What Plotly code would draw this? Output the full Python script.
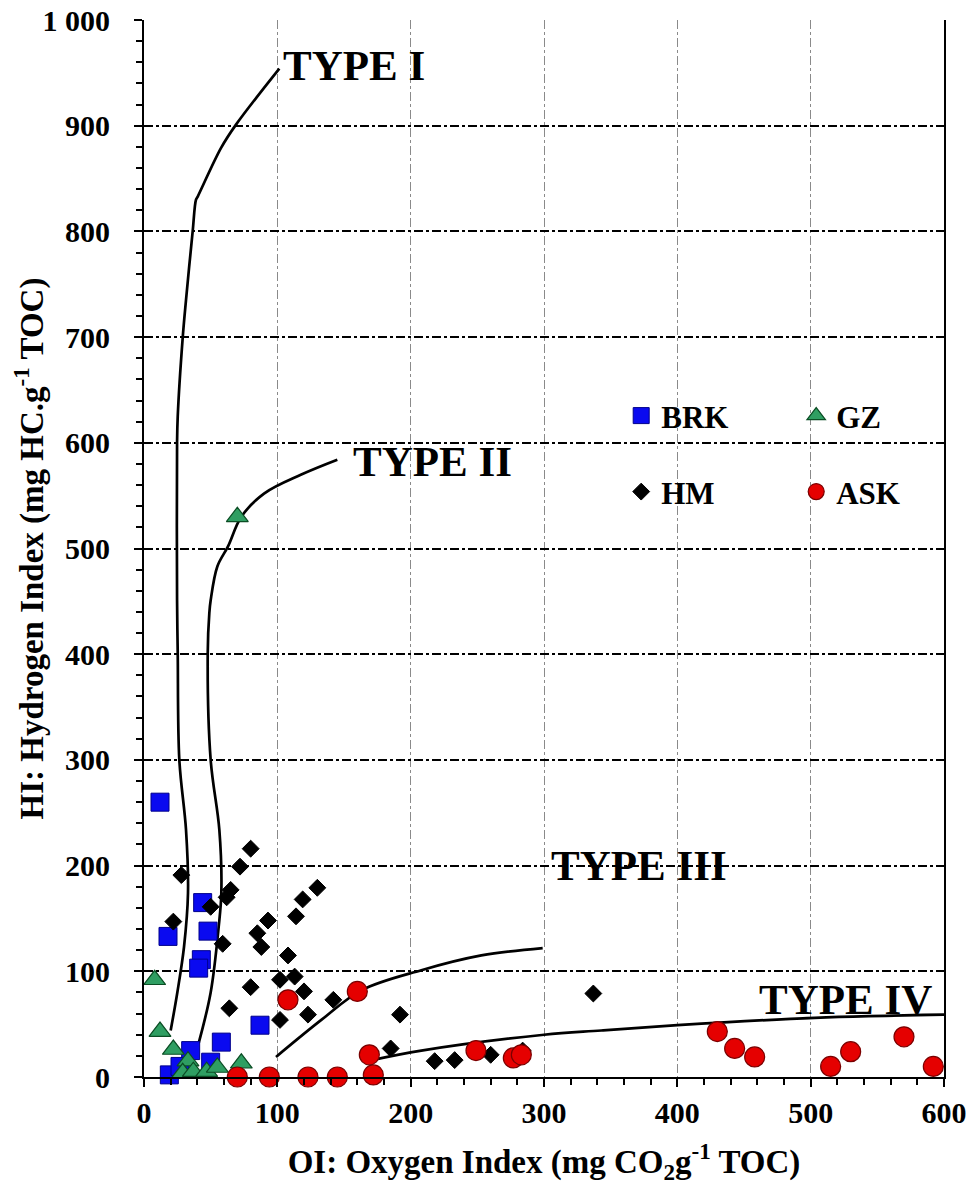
import plotly.graph_objects as go

# sample data (OI, HI)
brk_oi = [12, 44, 18, 48, 43, 41, 87, 58, 35, 50, 19, 27]
brk_hi = [260, 165, 133, 138, 111, 103, 49, 33, 25, 14, 2, 10]

gz_oi = [8, 12, 22, 33, 29, 37, 47, 55, 73, 70]
gz_hi = [92, 43, 26, 15, 4, 5, 5, 9, 13, 530]

hm_oi = [28, 22, 80, 72, 65, 62, 50, 59, 93, 85, 88, 108, 113, 102, 80, 120, 142, 123, 102, 64,
         114, 119, 130, 337, 192, 185, 218, 233, 260, 284]
hm_hi = [191, 147, 216, 199, 177, 170, 161, 126, 148, 136, 123, 115, 95, 92, 85, 81, 73, 59, 54, 65,
         152, 168, 179, 79, 59, 27, 15, 16, 21, 25]

ask_oi = [108, 160, 169, 172, 145, 123, 94, 70, 249, 277, 283, 430, 443, 458, 515, 530, 570, 592]
ask_hi = [73, 81, 21, 2, 0, 0, 0, 0, 25, 18, 21, 43, 27, 19, 10, 24, 38, 10]

# kerogen type boundary curves
type1_oi = [20, 25, 30, 33, 31.5, 26.5, 25.3, 24.8, 24.8, 25.3, 29, 31.5, 36.5, 39, 40.3, 57.8, 69, 101.5]
type1_hi = [44, 80, 123, 174, 234, 300, 401, 451, 600, 625, 699, 735, 800, 830, 833, 879, 901, 954]

type2_oi = [41, 50, 56, 58, 56.5, 50, 47.8, 49, 50, 55, 63, 73, 90, 118, 145]
type2_hi = [32, 80, 142, 174, 234, 300, 401, 439, 451, 483, 502, 530, 552, 570, 584]

type3_oi = [99, 133, 163, 208, 253, 299]
type3_hi = [19, 54, 82, 101, 115, 122]

type4_oi = [171, 208, 300, 343, 400, 503, 600]
type4_hi = [16, 25, 40, 44, 49, 56, 59]

type_labels = ["TYPE I", "TYPE II", "TYPE III", "TYPE IV"]
label_oi = [103, 155, 304, 460]
label_hi = [957, 582, 200, 73]

y_ticks = list(range(0, 1001, 100))
y_ticktext = [str(v) for v in y_ticks[:-1]] + ["1 000"]

FONT = "Liberation Serif"

fig = go.Figure()

for xs, ys in [(type1_oi, type1_hi), (type2_oi, type2_hi), (type3_oi, type3_hi), (type4_oi, type4_hi)]:
    fig.add_trace(go.Scatter(x=xs, y=ys, mode="lines", line=dict(color="black", width=2.7, shape="spline"),
                             showlegend=False, hoverinfo="skip"))

fig.add_trace(go.Scatter(x=brk_oi, y=brk_hi, mode="markers", name="BRK", legend="legend",
                         marker=dict(symbol="square", size=18, color="#0a0af0", line=dict(color="#00008a", width=1)),
                         cliponaxis=False))
fig.add_trace(go.Scatter(x=gz_oi, y=gz_hi, mode="markers", name="GZ", legend="legend",
                         marker=dict(symbol="triangle-up", size=19, color="#2f9e62", line=dict(color="#0b4d24", width=1.2)),
                         cliponaxis=False))
fig.add_trace(go.Scatter(x=hm_oi, y=hm_hi, mode="markers", name="HM", legend="legend2",
                         marker=dict(symbol="diamond", size=13, color="black", line=dict(color="black", width=1)),
                         cliponaxis=False))
fig.add_trace(go.Scatter(x=ask_oi, y=ask_hi, mode="markers", name="ASK", legend="legend2",
                         marker=dict(symbol="circle", size=20, color="#e50000", line=dict(color="#7a0000", width=1.2)),
                         cliponaxis=False))

for txt, xv, yv in zip(type_labels, label_oi, label_hi):
    fig.add_annotation(x=xv, y=yv, text="<b>" + txt + "</b>", showarrow=False, xanchor="left", yanchor="middle",
                       font=dict(family=FONT, size=43, color="black"))

legend_style = dict(orientation="h", xanchor="left", yanchor="middle", bgcolor="rgba(0,0,0,0)",
                    font=dict(family=FONT, size=31, color="black", weight="bold"),
                    entrywidth=130, entrywidthmode="pixels", itemclick=False)

# margins compensate for the page's default body offset
fig.update_layout(
    width=975, height=1193,
    margin=dict(l=136, r=34, t=12, b=124),
    paper_bgcolor="white", plot_bgcolor="white",
    font=dict(family=FONT, color="black"),
    legend=dict(x=0.5965, y=0.6254, **legend_style),
    legend2=dict(x=0.5965, y=0.5535, **legend_style),
    xaxis=dict(
        range=[0, 600], tickvals=list(range(0, 601, 100)), automargin=False,
        showline=True, linecolor="black", linewidth=2, mirror=False,
        ticks="outside", ticklen=8, tickwidth=1.5, tickcolor="black",
        minor=dict(ticks="outside", dtick=20, ticklen=6, tickwidth=1.5, tickcolor="black", showgrid=False),
        showgrid=True, gridcolor="#8a8a8a", gridwidth=1, griddash="dashdot",
        zeroline=False, ticklabelstandoff=0, ticklabeloverflow="allow",
        tickfont=dict(family=FONT, size=30, weight="bold"),
        title=dict(text="OI: Oxygen Index (mg CO<sub>2</sub>g<sup>-1</sup> TOC)",
                   font=dict(family=FONT, size=33, weight="bold"), standoff=22),
    ),
    yaxis=dict(
        range=[0, 1000], tickvals=y_ticks, ticktext=y_ticktext, automargin=False,
        showline=True, linecolor="black", linewidth=2, mirror=True,
        ticks="outside", ticklen=8, tickwidth=1.5, tickcolor="black",
        minor=dict(ticks="outside", dtick=20, ticklen=6, tickwidth=1.5, tickcolor="black", showgrid=False),
        showgrid=True, gridcolor="black", gridwidth=1.5, griddash="dashdot",
        zeroline=False, ticklabelstandoff=18, ticklabeloverflow="allow",
        tickfont=dict(family=FONT, size=30, weight="bold"),
        title=dict(text="HI: Hydrogen Index (mg HC.g<sup>-1</sup> TOC)",
                   font=dict(family=FONT, size=33, weight="bold"), standoff=20),
    ),
)

fig.write_html("out.html")
